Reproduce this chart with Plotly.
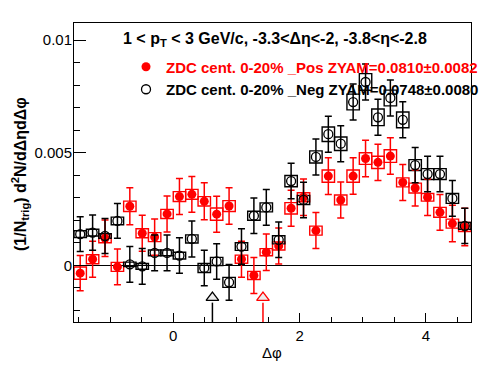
import math
import plotly.graph_objects as go

# ---- data ----
dphi = [-1.4726, -1.2763, -1.0799, -0.8836, -0.6872, -0.4909, -0.2945, -0.0982,
        0.0982, 0.2945, 0.4909, 0.6872, 0.8836, 1.0799, 1.2763, 1.4726,
        1.6690, 1.8653, 2.0617, 2.2580, 2.4544, 2.6507, 2.8471, 3.0434,
        3.2398, 3.4361, 3.6325, 3.8288, 4.0252, 4.2215, 4.4179, 4.6142]

pos_val = [-0.00035, 0.00027, 0.00120, -0.00007, 0.00262, 0.00142, 0.00125, 0.00228,
           0.00305, 0.00315, 0.00284, 0.00227, 0.00263, 0.00027, -0.00045, 0.00058,
           0.00086, 0.00253, 0.00302, 0.00154, 0.00396, 0.00290, 0.00396, 0.00474,
           0.00457, 0.00485, 0.00368, 0.00343, 0.00302, 0.00235, 0.00185, 0.00170]
pos_stat = [0.00078, 0.00080, 0.00081, 0.00079, 0.00082, 0.00080, 0.00081, 0.00080,
            0.00080, 0.00079, 0.00082, 0.00080, 0.00081, 0.00080, 0.00080, 0.00081,
            0.00080, 0.00080, 0.00081, 0.00080, 0.00082, 0.00080, 0.00081, 0.00081,
            0.00080, 0.00081, 0.00080, 0.00080, 0.00081, 0.00079, 0.00081, 0.00083]
pos_sys = [0.00027, 0.00020, 0.00020, 0.00020, 0.00023, 0.00020, 0.00020, 0.00020,
           0.00022, 0.00022, 0.00021, 0.00027, 0.00024, 0.00018, 0.00018, 0.00016,
           0.00018, 0.00025, 0.00020, 0.00020, 0.00027, 0.00022, 0.00027, 0.00026,
           0.00027, 0.00028, 0.00020, 0.00022, 0.00017, 0.00022, 0.00020, 0.00020]

neg_val = [0.00138, 0.00145, 0.00130, 0.00197, 0.00004, -0.00005, 0.00055, 0.00055,
           0.00043, 0.00117, -0.00012, 0.00017, -0.00076, 0.00083, 0.00220, 0.00257,
           0.00113, 0.00374, 0.00290, 0.00481, 0.00582, 0.00540, 0.00725, 0.00814,
           0.00657, 0.00743, 0.00646, 0.00445, 0.00405, 0.00405, 0.00297, 0.00175]
neg_stat = [0.00077, 0.00078, 0.00078, 0.00077, 0.00079, 0.00079, 0.00079, 0.00079,
            0.00079, 0.00080, 0.00079, 0.00079, 0.00079, 0.00079, 0.00079, 0.00079,
            0.00079, 0.00079, 0.00079, 0.00080, 0.00080, 0.00080, 0.00080, 0.00080,
            0.00080, 0.00080, 0.00080, 0.00078, 0.00079, 0.00079, 0.00079, 0.00078]
neg_sys = [0.00015, 0.00015, 0.00010, 0.00017, 0.00010, 0.00013, 0.00013, 0.00013,
           0.00015, 0.00018, 0.00020, 0.00018, 0.00022, 0.00017, 0.00020, 0.00020,
           0.00018, 0.00025, 0.00020, 0.00027, 0.00032, 0.00030, 0.00035, 0.00037,
           0.00037, 0.00035, 0.00035, 0.00024, 0.00024, 0.00024, 0.00022, 0.00015]

# ZYAM minimum markers (arrows)
zyam_x = [0.62, 1.42]
zyam_colors = ["black", "red"]

pos_name = "ZDC cent. 0-20% _Pos ZYAM=0.0810\u00b10.0082"
neg_name = "ZDC cent. 0-20% _Neg ZYAM=0.0748\u00b10.0080"

x_ticks = [0, 2, 4]
y_ticks = [0, 0.005, 0.01]
y_ticktext = ["0", "0.005", "0.01"]

XMIN, XMAX = -math.pi / 2, 3 * math.pi / 2
YMIN, YMAX = -0.00252, 0.01076
BIN_W = math.pi / 16
FONT = "Liberation Sans, Arial, Helvetica, sans-serif"

fig = go.Figure()

# systematic boxes
for vals, sys, col in [(pos_val, pos_sys, "red"), (neg_val, neg_sys, "black")]:
    fig.add_trace(go.Bar(
        x=dphi, y=[2 * s for s in sys], base=[v - s for v, s in zip(vals, sys)],
        width=BIN_W, marker=dict(color="rgba(0,0,0,0)", line=dict(color=col, width=1.4)),
        showlegend=False, hoverinfo="skip"))

# arrows (ZYAM minimum positions)
ARROW_TIP_Y = -0.00144
ARROW_BASE_Y = -0.00166
for xa, col in zip(zyam_x, zyam_colors):
    fig.add_trace(go.Scatter(x=[xa, xa], y=[ARROW_BASE_Y, YMIN], mode="lines",
                             line=dict(color=col, width=1.5), showlegend=False, hoverinfo="skip"))
    fig.add_trace(go.Scatter(x=[xa], y=[ARROW_TIP_Y], mode="markers",
                             marker=dict(symbol="triangle-up", size=11, color="#eeeeee",
                                         line=dict(color=col, width=1.3)),
                             showlegend=False, hoverinfo="skip"))

# data points
fig.add_trace(go.Scatter(
    x=dphi, y=pos_val, mode="markers", name="<b><span style='color:#ff0000'>" + pos_name + "</span></b>",
    marker=dict(symbol="circle", size=9, color="red"),
    error_y=dict(type="data", array=pos_stat, color="red", thickness=1.5, width=3.5)))
fig.add_trace(go.Scatter(
    x=dphi, y=neg_val, mode="markers", name="<b>" + neg_name + "</b>",
    marker=dict(symbol="circle-open", size=9, color="black", line=dict(width=1.3)),
    error_y=dict(type="data", array=neg_stat, color="black", thickness=1.5, width=3.5)))

fig.update_layout(
    width=496, height=374,
    margin=dict(l=74, r=25, t=23, b=52),
    paper_bgcolor="white", plot_bgcolor="white",
    barmode="overlay",
    font=dict(family=FONT, size=15, color="black"),
    showlegend=True,
    legend=dict(x=0.131, y=0.908, xanchor="left", yanchor="top",
                bgcolor="rgba(0,0,0,0)", font=dict(size=15, color="black", family=FONT),
                itemclick=False, traceorder="normal"),
    xaxis=dict(range=[XMIN, XMAX], showgrid=False, zeroline=False,
               showline=True, mirror=True, linecolor="black", linewidth=1,
               ticks="inside", ticklen=9, tickwidth=1, tickcolor="black",
               tickvals=x_ticks, tickfont=dict(size=15),
               minor=dict(dtick=0.5, tick0=0, ticks="inside", ticklen=5, tickcolor="black", showgrid=False)),
    yaxis=dict(range=[YMIN, YMAX], showgrid=False, zeroline=True, zerolinecolor="black", zerolinewidth=1,
               showline=True, mirror=True, linecolor="black", linewidth=1,
               ticks="inside", ticklen=12, tickwidth=1, tickcolor="black",
               tickvals=y_ticks, ticktext=y_ticktext, tickfont=dict(size=15),
               ticklabelstandoff=-2,
               minor=dict(dtick=0.001, tick0=0, ticks="inside", ticklen=6, tickcolor="black", showgrid=False)),
    annotations=[
        dict(text="<b>1 &lt; p<sub>T</sub> &lt; 3 GeV/c, -3.3&lt;\u0394\u03b7&lt;-2, -3.8&lt;\u03b7&lt;-2.8</b>",
             xref="paper", yref="paper", x=(275 - 74) / 397, y=(322 - 40) / 299,
             xanchor="center", yanchor="middle", showarrow=False, font=dict(size=16)),
        dict(text="<b>(1/N<sub>trig</sub>) d<sup>2</sup>N/d\u0394\u03b7d\u0394\u03c6</b>",
             xref="paper", yref="paper", x=(20 - 74) / 397, y=(322 - 174) / 299,
             xanchor="center", yanchor="middle", textangle=-90, showarrow=False, font=dict(size=16)),
        dict(text="\u0394\u03c6", xref="paper", yref="paper", x=(272 - 74) / 397, y=(322 - 352) / 299,
             xanchor="center", yanchor="middle", showarrow=False, font=dict(size=15)),
    ],
)

fig.write_html("out.html", config={"displayModeBar": False},
               post_script="document.body.style.margin='0px';document.body.style.padding='0px';")
